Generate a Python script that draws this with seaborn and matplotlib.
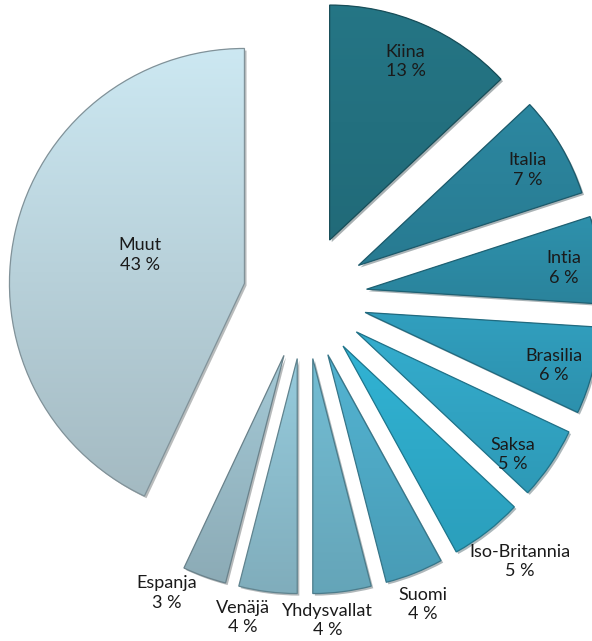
import numpy as np
import matplotlib
matplotlib.use("Agg")
import matplotlib.pyplot as plt
import matplotlib.patheffects as pe
import matplotlib.colors as mcolors
from matplotlib.patches import PathPatch
import seaborn as sns

# ---- data ----
categories = ["Kiina", "Italia", "Intia", "Brasilia", "Saksa", "Iso-Britannia",
              "Suomi", "Yhdysvallat", "Venäjä", "Espanja", "Muut"]
shares = [13, 7, 6, 6, 5, 5, 4, 4, 4, 3, 43]

# ---- style ----
colors = ["#23707f", "#2a8199", "#2c8aa4", "#2f98b6", "#31a3c2", "#2ea9c8",
          "#4ea8c4", "#6cb1c6", "#8bbccc", "#98bac6", "#b8d1da"]
grad = [0.05, 0.05, 0.05, 0.05, 0.06, 0.06, 0.07, 0.07, 0.08, 0.08, 0.11]
label_dist = [1.09, 1.09, 1.11, 1.10, 1.11, 1.45, 1.40, 1.38, 1.39, 1.39, 0.725]
label_nudge = [0.3, -0.9, -0.8, -1.0, -3.0, 1.2, -0.6, -3.2, -3.8, -5.2, -1.7]
explode_frac = 0.264

sns.set_theme(style="white")
plt.rcParams["font.family"] = ["Lato", "DejaVu Sans"]

fig = plt.figure(figsize=(5.92, 6.41), dpi=100)
ax = fig.add_axes([0, 0, 1, 1])

wedges, _ = ax.pie(shares, startangle=90, counterclock=False,
                   explode=[explode_frac] * len(shares), colors=colors,
                   radius=1.0, normalize=True,
                   wedgeprops=dict(linewidth=0))

for w, c, g in zip(wedges, colors, grad):
    base = np.array(mcolors.to_rgb(c))
    w.set_path_effects([pe.SimplePatchShadow(offset=(1.5, -1.5), alpha=0.35),
                        pe.Normal()])
    bb = w.get_path().get_extents()
    top = np.clip(base * (1 + g), 0, 1)
    bot = np.clip(base * (1 - g), 0, 1)
    t = np.linspace(0, 1, 128)[:, None]
    img = (top[None, :] * (1 - t) + bot[None, :] * t)[:, None, :]
    im = ax.imshow(img, extent=(bb.x0, bb.x1, bb.y0, bb.y1), origin="upper",
                   interpolation="bilinear", aspect="auto", zorder=w.get_zorder() + 0.1)
    im.set_clip_path(w)
    edge = PathPatch(w.get_path(), facecolor="none",
                     edgecolor=mcolors.to_hex(base * 0.7), linewidth=0.9,
                     zorder=w.get_zorder() + 0.2)
    ax.add_patch(edge)

for w, name, v, ld, nd in zip(wedges, categories, shares, label_dist, label_nudge):
    theta = np.deg2rad((w.theta1 + w.theta2) / 2 + nd)
    x, y = ld * np.cos(theta), ld * np.sin(theta)
    ax.text(x, y, f"{name}\n{v} %", ha="center", va="center",
            fontsize=13, color="#1a1a1a", linespacing=1.25, zorder=5)

ax.set_xlim(-305 / 235, (592 - 305) / 235)
ax.set_ylim((297 - 641) / 235, 297 / 235)
ax.set_aspect("equal")
ax.axis("off")

fig.savefig("out.png", dpi=100, facecolor="white")
